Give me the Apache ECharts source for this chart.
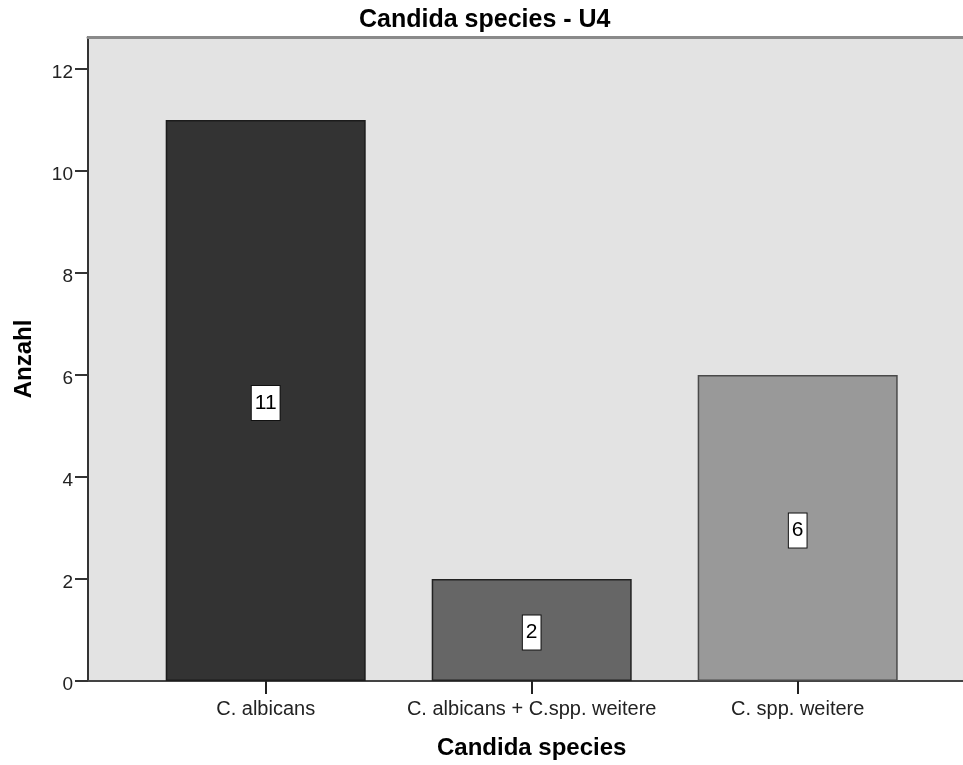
<!DOCTYPE html>
<html>
<head>
<meta charset="utf-8">
<title>Candida species - U4</title>
<script src="https://cdn.jsdelivr.net/npm/echarts@6/dist/echarts.min.js"></script>
<style>
  html, body { margin: 0; padding: 0; background: #ffffff; }
  #chart { width: 963px; height: 765px; }
</style>
</head>
<body>
<div id="chart"></div>
<script>
// Counts of Candida species found in U4
const categories = ['C. albicans', 'C. albicans + C.spp. weitere', 'C. spp. weitere'];
const counts = [11, 2, 6];
const yTicks = [0, 2, 4, 6, 8, 10, 12];
const yMax = 12.63;

// Bar fill and outline shades
const barColors = ['#333333', '#666666', '#999999'];
const barBorders = ['#1c1c1c', '#222222', '#4a4a4a'];

const FONT = '"Liberation Sans", Arial, sans-serif';

const chart = echarts.init(document.getElementById('chart'), null, { renderer: 'canvas' });

chart.setOption({
  animation: false,
  backgroundColor: '#ffffff',
  title: {
    text: 'Candida species - U4',
    left: 359,
    top: 8,
    padding: 0,
    textStyle: { fontFamily: FONT, fontSize: 25, fontWeight: 'bold', color: '#000000' }
  },
  grid: [
    // frame with the grey plot background
    { left: 88, right: 0, top: 37, bottom: 84, show: true, backgroundColor: '#e3e3e3', borderWidth: 0 },
    // bars
    { left: 132.7, width: 798, top: 37, bottom: 84 }
  ],
  xAxis: [
    {
      gridIndex: 0, type: 'value', min: 0, max: 1, position: 'bottom',
      axisLine: { show: true, lineStyle: { color: '#444444', width: 2 } },
      axisTick: { show: false }, axisLabel: { show: false }, splitLine: { show: false }
    },
    {
      gridIndex: 0, type: 'value', min: 0, max: 1, position: 'top',
      axisLine: { show: true, lineStyle: { color: '#8a8a8a', width: 3 } },
      axisTick: { show: false }, axisLabel: { show: false }, splitLine: { show: false }
    },
    {
      gridIndex: 1, type: 'category', data: categories, position: 'bottom',
      axisLine: { show: false },
      axisTick: { show: true, interval: 0, alignWithLabel: true, length: 13, lineStyle: { color: '#222222', width: 2 } },
      axisLabel: { interval: 0, margin: 18, fontFamily: FONT, fontSize: 20, color: '#222222' },
      name: 'Candida species',
      nameLocation: 'middle',
      nameGap: 55,
      nameTextStyle: { fontFamily: FONT, fontSize: 24, fontWeight: 'bold', color: '#000000' }
    }
  ],
  yAxis: [
    {
      gridIndex: 0, type: 'value', min: 0, max: yMax,
      axisLine: { show: true, lineStyle: { color: '#333333', width: 2 } },
      axisTick: { show: true, length: 13, customValues: yTicks, lineStyle: { color: '#333333', width: 2 } },
      axisLabel: {
        customValues: yTicks, margin: 15, fontFamily: FONT, fontSize: 19, color: '#222222',
        verticalAlign: 'top', lineHeight: 8
      },
      splitLine: { show: false },
      name: 'Anzahl',
      nameLocation: 'middle',
      nameGap: 52,
      nameTextStyle: { fontFamily: FONT, fontSize: 24, fontWeight: 'bold', color: '#000000' }
    },
    { gridIndex: 1, type: 'value', min: 0, max: yMax, show: false }
  ],
  series: [
    {
      type: 'bar',
      xAxisIndex: 2,
      yAxisIndex: 1,
      barWidth: 200,
      data: counts.map((v, i) => ({
        value: v,
        itemStyle: { color: barColors[i], borderColor: barBorders[i], borderWidth: 1.5 }
      })),
      label: {
        show: true,
        position: 'inside',
        offset: [0, 2.5],
        formatter: '{c}',
        fontFamily: FONT,
        fontSize: 21,
        lineHeight: 22,
        color: '#000000',
        backgroundColor: '#ffffff',
        borderColor: '#111111',
        borderWidth: 1,
        padding: [6, 3, 6, 3]
      }
    }
  ]
});
</script>
</body>
</html>
